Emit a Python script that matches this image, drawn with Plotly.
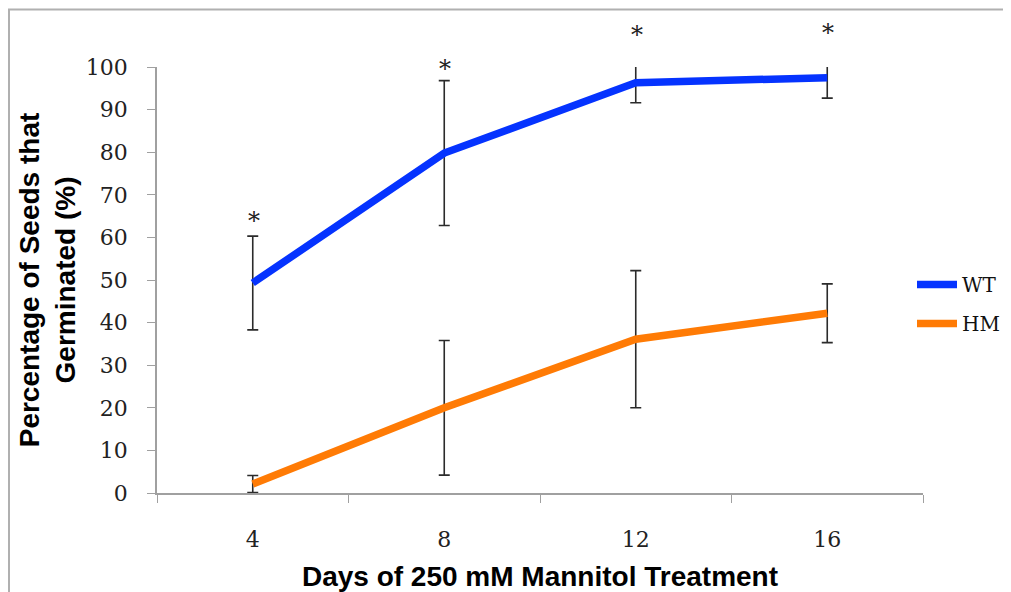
import plotly.graph_objects as go

days = ["4", "8", "12", "16"]
wt_mean = [49.3, 79.8, 96.3, 97.5]
wt_err = [11.0, 17.0, 4.7, 4.8]
hm_mean = [2.1, 20.0, 36.1, 42.2]
hm_err = [2.0, 15.8, 16.1, 6.9]
star_y = [63.8, 99.5, 107.6, 107.9]
y_min, y_max = 0, 100

# the page body adds an 8px margin, so the figure is drawn 8px smaller
W, H = 1003, 584
L, R, T, B = 149, 88, 8, 99
pw, ph = W - L - R, H - T - B
axis_px = 426                     # height of the 0-100 value axis
dom = axis_px / ph                # main y axis occupies the lower part
y2_top = y_max / dom              # companion axis, same scale, full height

serif = "DejaVu Serif"
sans = "Liberation Sans"

fig = go.Figure()
fig.add_trace(go.Scatter(
    x=days, y=wt_mean, name="WT", mode="lines", legendgroup="wt",
    line=dict(color="#0533FF", width=7.5),
    error_y=dict(type="data", array=wt_err, color="#2b2b2b", thickness=1.6, width=5.5),
))
fig.add_trace(go.Scatter(
    x=days, y=hm_mean, name="HM", mode="lines", legendgroup="hm",
    line=dict(color="#FF7B05", width=7.5),
    error_y=dict(type="data", array=hm_err, color="#2b2b2b", thickness=1.6, width=5.5),
))

for i, sy in enumerate(star_y):
    fig.add_annotation(x=i, y=sy, xref="x", yref="y2", text="*", showarrow=False,
                       xshift=1, font=dict(family=serif, size=24, color="#222"))

# outer chart border
fig.add_shape(type="rect", xref="paper", yref="paper",
              x0=(1 - L) / pw, x1=(W + 40 - L) / pw,
              y0=-(B + 40) / ph, y1=(H - B - 1.5) / ph,
              line=dict(color="#b0b0b0", width=2), layer="below")

fig.update_layout(
    width=W, height=H,
    margin=dict(l=L, r=R, t=T, b=B, autoexpand=False),
    paper_bgcolor="white", plot_bgcolor="rgba(0,0,0,0)",
    showlegend=True,
    legend=dict(x=(904 - L) / pw, y=(H - B - 257) / ph, xanchor="left", yanchor="top",
                font=dict(family=serif, size=20, color="#111"), itemwidth=40,
                traceorder="grouped", tracegroupgap=10, bgcolor="rgba(0,0,0,0)"),
    xaxis=dict(type="category", range=[-0.5, 3.5], tickson="boundaries", automargin=False,
               anchor="y",
               ticks="outside", ticklen=8, tickcolor="#a0a0a0",
               showline=True, linecolor="#a0a0a0", linewidth=1.5,
               showgrid=False, zeroline=False, ticklabelstandoff=26,
               tickfont=dict(family=serif, size=22, color="#222"),
               title=dict(text="<b>Days of 250 mM Mannitol Treatment</b>",
                          font=dict(family=sans, size=28, color="black"), standoff=16)),
    yaxis=dict(range=[y_min, y_max], domain=[0, dom],
               tick0=0, dtick=10, ticks="outside", ticklen=8, tickcolor="#a0a0a0",
               showline=True, linecolor="#a0a0a0", linewidth=1.5, automargin=False,
               showgrid=False, zeroline=False, ticklabelstandoff=15,
               tickfont=dict(family=serif, size=22, color="#222"),
               title=dict(text="<b>Percentage of Seeds that<br>Germinated (%)</b>",
                          font=dict(family=sans, size=28, color="black"), standoff=2)),
    yaxis2=dict(range=[y_min, y2_top], domain=[0, 1], anchor="x", visible=False,
                showgrid=False, zeroline=False, automargin=False),
)

fig.write_html("out.html")
